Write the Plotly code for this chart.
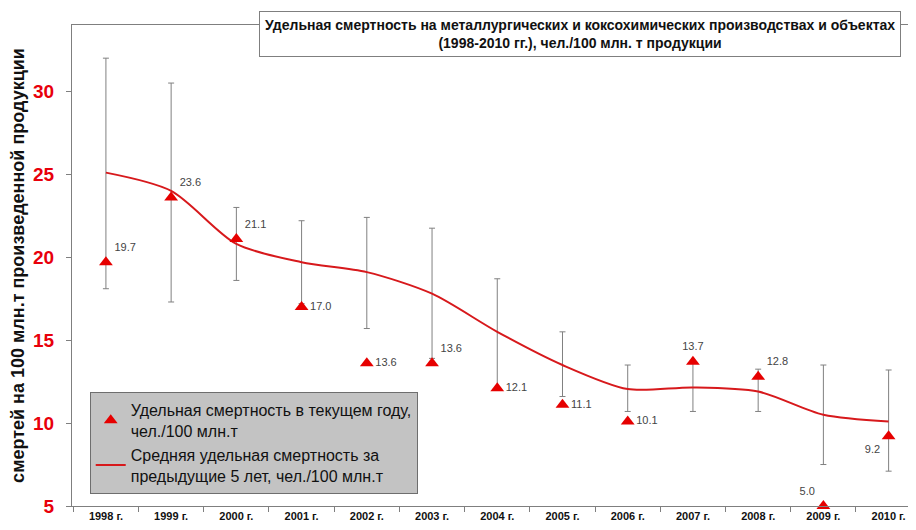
import plotly.graph_objects as go

years = ["1998 г.", "1999 г.", "2000 г.", "2001 г.", "2002 г.", "2003 г.", "2004 г.",
         "2005 г.", "2006 г.", "2007 г.", "2008 г.", "2009 г.", "2010 г."]
current_rate = [19.7, 23.6, 21.1, 17.0, 13.6, 13.6, 12.1, 11.1, 10.1, 13.7, 12.8, 5.0, 9.2]
avg5_rate = [25.1, 24.0, 20.8, 19.7, 19.1, 17.8, 15.5, 13.5, 12.05, 12.15, 11.9, 10.5, 10.1]
range_high = [32.0, 30.5, 23.0, 22.2, 22.4, 21.75, 18.7, 15.5, 13.5, 13.7, 13.25, 13.5, 13.2]
range_low = [18.1, 17.3, 18.6, 17.2, 15.7, 13.9, 12.1, 11.6, 10.7, 10.7, 10.7, 7.5, 7.1]

label_pos = ["top right", "top right", "top right", "middle right", "middle right",
             "top right", "middle right", "middle right", "middle right", "top center",
             "top right", "top left", "bottom left"]

FONT = "Arial, Liberation Sans, sans-serif"

err_plus = [h - a for h, a in zip(range_high, avg5_rate)]
err_minus = [a - l for a, l in zip(avg5_rate, range_low)]

fig = go.Figure()
fig.add_trace(go.Scatter(
    x=years, y=avg5_rate, mode="lines",
    line=dict(color="#d7191c", width=2, shape="spline", smoothing=0.8),
    error_y=dict(type="data", symmetric=False, array=err_plus, arrayminus=err_minus,
                 color="#808080", thickness=1, width=3),
    name="Средняя удельная смертность за<br>предыдущие 5 лет, чел./100 млн.т",
))
fig.add_trace(go.Scatter(
    x=years, y=current_rate, mode="markers+text",
    marker=dict(symbol="triangle-up", size=12, color="#e60000"),
    text=[f"{v:.1f}" for v in current_rate], textposition=label_pos,
    textfont=dict(family=FONT, size=11, color="#444444"),
    cliponaxis=False,
    name="Удельная смертность в текущем году,<br>чел./100 млн.т",
))

fig.update_layout(
    width=908, height=522,
    margin=dict(l=64, r=0, t=17, b=24),
    paper_bgcolor="white", plot_bgcolor="white",
    font=dict(family=FONT),
    showlegend=True,
    legend=dict(
        x=0.021, y=0.237, xanchor="left", yanchor="top",
        bgcolor="#c3c3c3", bordercolor="#6e6e6e", borderwidth=1,
        font=dict(family=FONT, size=16, color="#111111"),
        traceorder="reversed", tracegroupgap=4,
    ),
    annotations=[dict(
        xref="paper", yref="paper", x=0.602, y=0.981, xanchor="center", yanchor="middle",
        text="<b>Удельная смертность на металлургических и коксохимических производствах и объектах<br>(1998-2010 гг.), чел./100 млн. т продукции</b>",
        showarrow=False, align="center",
        font=dict(family=FONT, size=14, color="#111111"),
        bgcolor="white", bordercolor="#7f7f7f", borderwidth=1, borderpad=5,
    )],
)
fig.update_xaxes(
    type="category", range=[-0.52, 12.42],
    showline=True, linecolor="#7f7f7f", linewidth=1, mirror=True,
    ticks="outside", tickson="boundaries", ticklen=5, tickcolor="#7f7f7f",
    tickfont=dict(family=FONT, size=11, color="#111111", weight="bold"),
    showgrid=False, zeroline=False,
)
fig.update_yaxes(
    range=[5, 34], tickvals=[5, 10, 15, 20, 25, 30],
    showline=True, linecolor="#7f7f7f", linewidth=1,
    ticks="outside", ticklen=5, tickcolor="#7f7f7f", ticklabelstandoff=8,
    tickfont=dict(family=FONT, size=19, color="#e8000b", weight="bold"),
    title=dict(text="смертей на 100 млн.т произведенной продукции",
               font=dict(family=FONT, size=18, color="#111111", weight="bold"), standoff=10),
    automargin=False,
    showgrid=False, zeroline=False,
)

fig.write_html("out.html")
